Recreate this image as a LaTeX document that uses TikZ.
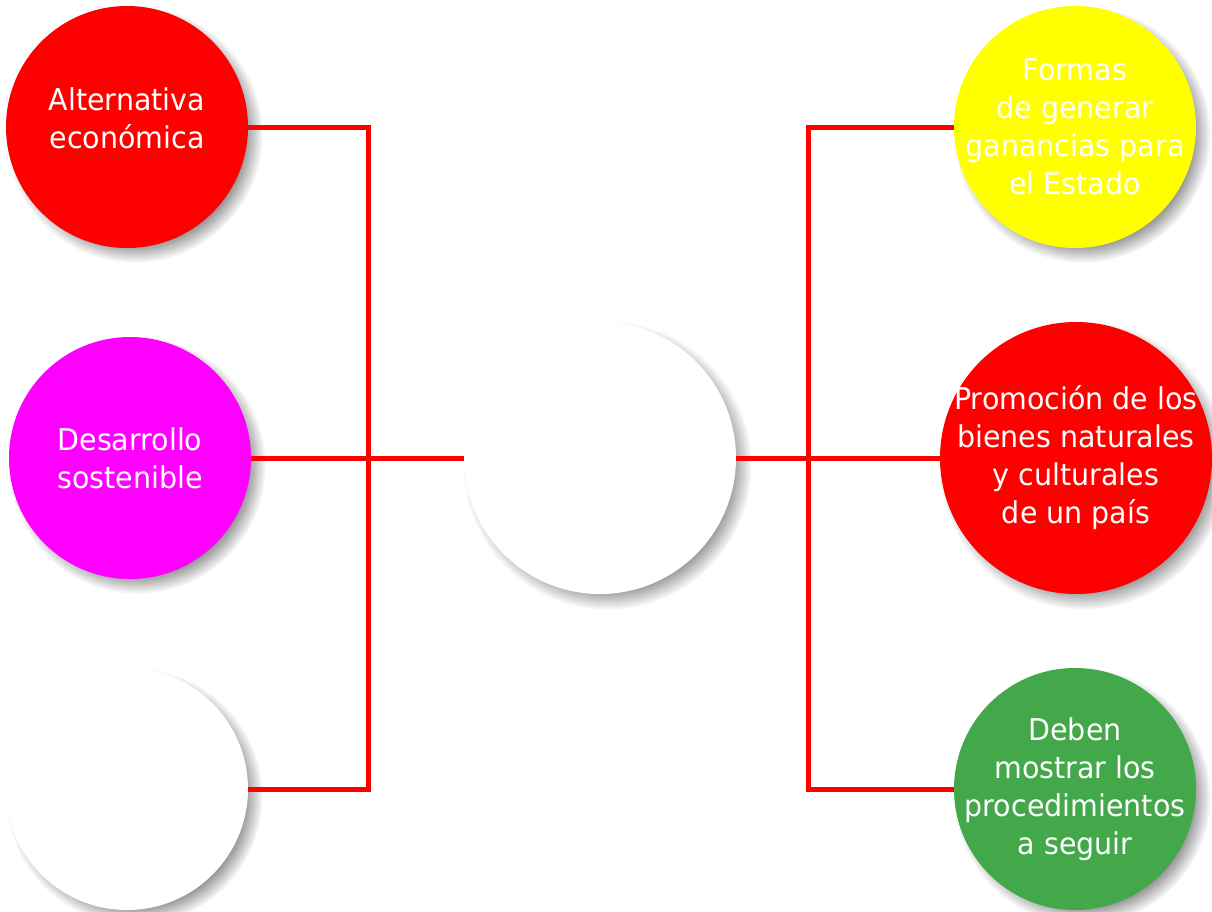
\documentclass[tikz,border=0pt]{standalone}
\usepackage{fontspec}
\setmainfont[FakeStretch=0.95]{DejaVu Sans}
\usetikzlibrary{shadows}

\definecolor{bubred}{RGB}{254,0,0}
\definecolor{bubpink}{RGB}{255,0,255}
\definecolor{bubyellow}{RGB}{255,255,0}
\definecolor{bubgreen}{RGB}{67,168,73}

\tikzstyle{bubble} = [
        circle,
        inner sep=0pt,
        minimum size=242pt,
        circular drop shadow={shadow xshift=7pt, shadow yshift=-7pt,
            shadow scale=1.06, opacity=0.85, fill=black!50}
    ]
\tikzstyle{bigbubble} = [bubble, minimum size=272pt]
\tikzstyle{caption} = [
        align=center,
        text=white,
        inner sep=0pt,
        font=\fontsize{30}{38}\selectfont
    ]
\tikzstyle{link} = [draw=bubred, line width=5pt]

\begin{document}
\begin{tikzpicture}[x=1pt, y=-1pt]
        \useasboundingbox[fill=white] (0,0) rectangle (1212,911);
        % left column
        \node(alt) [bubble, fill=bubred,
            label={[caption, yshift=9pt]center:Alternativa\\económica}]
            at (127,127) {};
        \node(des) [bubble, fill=bubpink,
            label={[caption]center:Desarrollo\\sostenible}]
            at (130,458) {};
        \node(vac) [bubble, fill=white] at (127,789) {};
        % centre
        \node(cen) [bigbubble, fill=white] at (600,458) {};
        % right column
        \node(for) [bubble, fill=bubyellow,
            label={[caption]center:Formas\\de generar\\ganancias para\\el Estado}]
            at (1075,127) {};
        \node(pro) [bigbubble, fill=bubred,
            label={[caption]center:Promoción de los\\bienes naturales\\y culturales\\de un país}]
            at (1076,458) {};
        \node(deb) [bubble, fill=bubgreen,
            label={[caption]center:Deben\\mostrar los\\procedimientos\\a seguir}]
            at (1075,789) {};
        \coordinate(jl) at (368,458);
        \coordinate(jr) at (808,458);
        \draw[link] (alt.east) -| (jl);
        \draw[link] (vac.east) -| (jl);
        \draw[link] (des) -- (cen);
        \draw[link] (cen) -- (pro);
        \draw[link] (for.west) -| (jr);
        \draw[link] (deb.west) -| (jr);
    \end{tikzpicture}
\end{document}
